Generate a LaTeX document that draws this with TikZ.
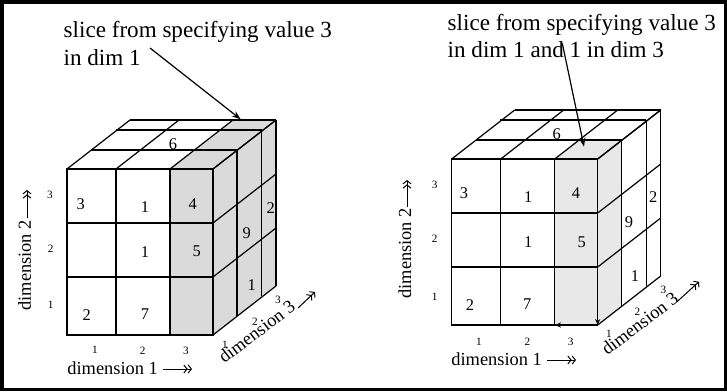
\documentclass[tikz,border=0pt]{standalone}
\usepackage{fontspec}
\setmainfont{Liberation Serif}
\usetikzlibrary{arrows.meta}
\definecolor{shadeA}{gray}{0.855}
\definecolor{shadeB}{gray}{0.91}
\tikzset{
  cubeline/.style={line width=0.6pt, black},
  celltext/.style={font=\fontsize{8.2}{9}\selectfont, inner sep=0pt},
  ticktext/.style={font=\fontsize{5.6}{6}\selectfont, inner sep=0pt},
  axistext/.style={font=\fontsize{9.2}{10}\selectfont, inner sep=0pt},
  notetext/.style={font=\fontsize{11.55}{14}\selectfont, inner sep=0pt, anchor=base west},
  notearrow/.style={line width=0.6pt, -{Stealth[length=4.5pt,width=3.2pt]}},
  axisarrow/.style={line width=0.5pt, -{Straight Barb[length=1.6pt,width=4pt] Straight Barb[length=1.6pt,width=4pt]}},
  edgearrow/.style={line width=0.6pt, -{Stealth[length=3pt,width=2.6pt]}},
}
\newcommand{\cubegrid}{%
  \draw[cubeline] (0,0) rectangle (146,166);
  \draw[cubeline] (49,0) -- (49,166) (103,0) -- (103,166) (0,54) -- (146,54) (0,108) -- (146,108);
  \foreach \c in {0,49,103,146} {\draw[cubeline] (\c,0) -- ++(63,-49);}
  \foreach \dx/\dy in {24/-19,48.5/-39,63/-49} {\draw[cubeline] (\dx,\dy) -- ++(146,0);}
  \foreach \dx/\dy in {24/-19,48.5/-39,63/-49} {\draw[cubeline] (146+\dx,\dy) -- ++(0,166);}
  \foreach \r in {0,54,108,166} {\draw[cubeline] (146,\r) -- ++(63,-49);}
}
\begin{document}
\begin{tikzpicture}[x=0.5pt,y=-0.5pt]
\useasboundingbox (0,0) rectangle (727,391);
\draw[line width=1.6pt] (2,2) rectangle (725.3,389.3);

% ---------------- left cube ----------------
\begin{scope}[shift={(67,169)}]
  \fill[shadeA] (103,0) rectangle (146,166);
  \fill[shadeA] (103,0) -- (146,0) -- (209,-49) -- (166,-49) -- cycle;
  \fill[shadeA] (146,0) -- (209,-49) -- (209,117) -- (146,166) -- cycle;
  \cubegrid
\end{scope}
\node[celltext] (L3a) at (80.7,204) {3};
\node[celltext] (L1a) at (145,207) {1};
\node[celltext] (L4a) at (192.7,204) {4};
\node[celltext] (L2r) at (270.7,208) {2};
\node[celltext] (L6t) at (173,144) {6};
\node[celltext] (L1b) at (145,252) {1};
\node[celltext] (L5b) at (196.7,251.7) {5};
\node[celltext] (L9r) at (246.7,232.7) {9};
\node[celltext] (L2c) at (86.7,315) {2};
\node[celltext] (L7c) at (145,314) {7};
\node[celltext] (L1r) at (251.7,285) {1};

\node[ticktext] (Ly3) at (50,195) {3};
\node[ticktext] (Ly2) at (50.7,249) {2};
\node[ticktext] (Ly1) at (50.7,305) {1};
\node[ticktext] (Lx1) at (95,350) {1};
\node[ticktext] (Lx2) at (142.7,350.7) {2};
\node[ticktext] (Lx3) at (186,351) {3};
\node[ticktext] (Lz1) at (225,345) {1};
\node[ticktext] (Lz2) at (255,322) {2};
\node[ticktext] (Lz3) at (278,300) {3};

\node[axistext, anchor=base west] (Ldim1) at (67,374) {dimension 1};
\coordinate (Ldim1a) at (163,369);
\coordinate (Ldim1b) at (192,369);
\draw[axisarrow] (Ldim1a) -- (Ldim1b);
\node[axistext, anchor=base west, rotate=90] (Ldim2) at (31,311) {dimension 2};
\coordinate (Ldim2a) at (27,218);
\coordinate (Ldim2b) at (27,190);
\draw[axisarrow] (Ldim2a) -- (Ldim2b);
\node[axistext, anchor=base west, rotate=37] (Ldim3) at (224,364) {dimension 3};
\coordinate (Ldim3a) at (298,308);
\coordinate (Ldim3b) at (315,292);
\draw[axisarrow] (Ldim3a) -- (Ldim3b);

\node[notetext] (Lnote1) at (63.3,37.3) {slice from specifying value 3};
\node[notetext] (Lnote2) at (63.3,65) {in dim 1};
\coordinate (Lnotea) at (150,48);
\coordinate (Lnoteb) at (240.7,119.3);
\draw[notearrow] (Lnotea) -- (Lnoteb);

% ---------------- right cube ----------------
\begin{scope}[shift={(451.7,159)}]
  \fill[shadeB] (103,0) rectangle (146,166);
  \fill[shadeB] (103,0) -- (146,0) -- (170,-19) -- (127,-19) -- cycle;
  \fill[shadeB] (146,0) -- (170,-19) -- (170,147) -- (146,166) -- cycle;
  \cubegrid
\end{scope}
\coordinate (Rva) at (597.7,305);
\coordinate (Rvb) at (597.7,325);
\draw[edgearrow] (Rva) -- (Rvb);
\coordinate (Rha) at (575,325);
\coordinate (Rhb) at (555,325);
\draw[edgearrow] (Rha) -- (Rhb);

\node[celltext] (R3a) at (464,193.3) {3};
\node[celltext] (R1a) at (528.3,197.3) {1};
\node[celltext] (R4a) at (576,193) {4};
\node[celltext] (R2r) at (653.3,197.3) {2};
\node[celltext] (R6t) at (556.7,134) {6};
\node[celltext] (R1b) at (528.3,242.3) {1};
\node[celltext] (R5b) at (581.7,242.3) {5};
\node[celltext] (R9r) at (629,221.7) {9};
\node[celltext] (R2c) at (470,305) {2};
\node[celltext] (R7c) at (527.3,304.3) {7};
\node[celltext] (R1r) at (635,275.7) {1};

\node[ticktext] (Ry3) at (434.7,185) {3};
\node[ticktext] (Ry2) at (434.7,239) {2};
\node[ticktext] (Ry1) at (434.7,296.7) {1};
\node[ticktext] (Rx1) at (479,341.7) {1};
\node[ticktext] (Rx2) at (527.3,341.7) {2};
\node[ticktext] (Rx3) at (570.7,341.7) {3};
\node[ticktext] (Rz1) at (609,334) {1};
\node[ticktext] (Rz2) at (637.3,311.7) {2};
\node[ticktext] (Rz3) at (663.3,290) {3};

\node[axistext, anchor=base west] (Rdim1) at (451,365) {dimension 1};
\coordinate (Rdim1a) at (547,360);
\coordinate (Rdim1b) at (576,360);
\draw[axisarrow] (Rdim1a) -- (Rdim1b);
\node[axistext, anchor=base west, rotate=90] (Rdim2) at (411,299) {dimension 2};
\coordinate (Rdim2a) at (407,207);
\coordinate (Rdim2b) at (407,180);
\draw[axisarrow] (Rdim2a) -- (Rdim2b);
\node[axistext, anchor=base west, rotate=37] (Rdim3) at (607,356) {dimension 3};
\coordinate (Rdim3a) at (677,301.7);
\coordinate (Rdim3b) at (699,281.7);
\draw[axisarrow] (Rdim3a) -- (Rdim3b);

\node[notetext] (Rnote1) at (447.3,30) {slice from specifying value 3};
\node[notetext] (Rnote2) at (447.3,57.7) {in dim 1 and 1 in dim 3};
\coordinate (Rnotea) at (562.3,43.3);
\coordinate (Rnoteb) at (584,146.7);
\draw[notearrow] (Rnotea) -- (Rnoteb);
\end{tikzpicture}
\end{document}
